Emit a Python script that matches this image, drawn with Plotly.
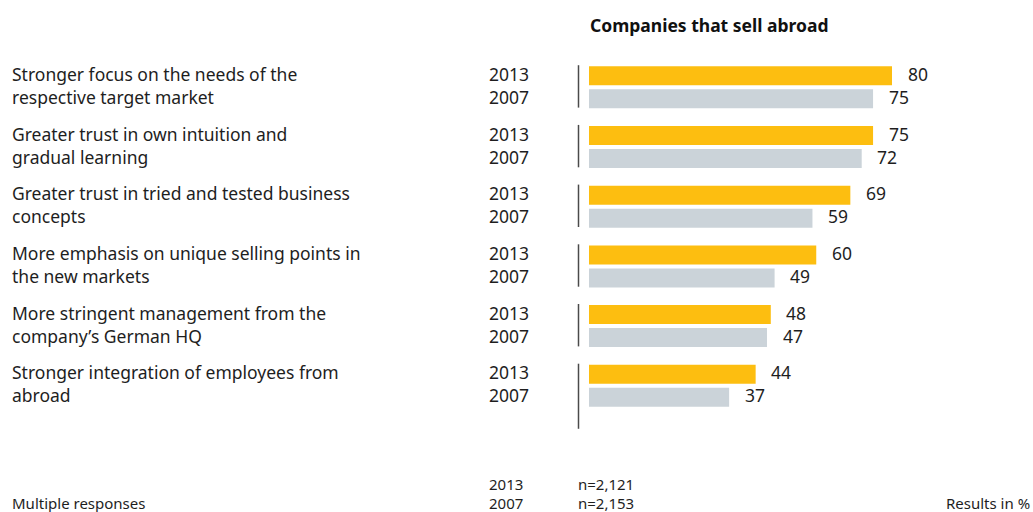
import plotly.graph_objects as go

categories = [
    "Stronger focus on the needs of the<br>respective target market",
    "Greater trust in own intuition and<br>gradual learning",
    "Greater trust in tried and tested business<br>concepts",
    "More emphasis on unique selling points in<br>the new markets",
    "More stringent management from the<br>company’s German HQ",
    "Stronger integration of employees from<br>abroad",
]
values_2013 = [80, 75, 69, 60, 48, 44]
values_2007 = [75, 72, 59, 49, 47, 37]
years = ["2013", "2007"]
sample_sizes = ["n=2,121", "n=2,153"]
title = "Companies that sell abroad"
footer_left = "Multiple responses"
footer_right = "Results in %"

W, H = 1033, 512
YELLOW = "#FDBE10"
GRAY = "#CBD3D9"
TXT = "#1e1e1e"
FONT = "Noto Sans"
FS = 17.5
FS_FOOT = 15

idx = list(range(len(categories)))

fig = go.Figure()
fig.add_trace(go.Bar(y=idx, x=values_2013, orientation="h", marker=dict(color=YELLOW, line=dict(width=0)),
                     name=years[0], hoverinfo="skip"))
fig.add_trace(go.Bar(y=idx, x=values_2007, orientation="h", marker=dict(color=GRAY, line=dict(width=0)),
                     name=years[1], hoverinfo="skip"))

ann = []
shapes = []
OFF_TOP, OFF_BOT = 13.5, -9.5  # px offsets of text rows from group centre
for i, cat in enumerate(categories):
    l1, l2 = cat.split("<br>")
    for line, dy in ((l1, OFF_TOP), (l2, OFF_BOT)):
        ann.append(dict(x=10 / W, xref="paper", y=i, yref="y", yshift=dy, text=line, showarrow=False,
                        xanchor="left", yanchor="middle", font=dict(size=FS, color=TXT, family=FONT)))
    for yr, dy in zip(years, (OFF_TOP, OFF_BOT)):
        ann.append(dict(x=487 / W, xref="paper", y=i, yref="y", yshift=dy, text=yr, showarrow=False,
                        xanchor="left", yanchor="middle", font=dict(size=FS, color=TXT, family=FONT)))
    for v, dy in ((values_2013[i], OFF_TOP), (values_2007[i], OFF_BOT)):
        ann.append(dict(x=v, xref="x", y=i, yref="y", yshift=dy, xshift=13.5, text=str(v), showarrow=False,
                        xanchor="left", yanchor="middle", font=dict(size=FS, color=TXT, family=FONT)))
    bottom = i + (0.72 if i == len(categories) - 1 else 0.34)
    shapes.append(dict(type="line", xref="paper", yref="y", x0=578.5 / W, x1=578.5 / W, y0=i - 0.37, y1=bottom,
                       line=dict(color="#4a4a4a", width=1.5)))

ann.append(dict(x=588 / W, xref="paper", y=1 - 25 / H, yref="paper", text="<b>" + title + "</b>", showarrow=False,
                xanchor="left", yanchor="middle", font=dict(size=FS, color="#111", family=FONT)))
ann.append(dict(x=10 / W, xref="paper", y=1 - 503 / H, yref="paper", text=footer_left, showarrow=False,
                xanchor="left", yanchor="middle", font=dict(size=FS_FOOT, color=TXT, family=FONT)))
ann.append(dict(x=1032 / W, xref="paper", y=1 - 503 / H, yref="paper", text=footer_right, showarrow=False,
                xanchor="right", yanchor="middle", font=dict(size=FS_FOOT, color=TXT, family=FONT)))
for yr, n, ypx in zip(years, sample_sizes, (484, 503)):
    ann.append(dict(x=487 / W, xref="paper", y=1 - ypx / H, yref="paper", text=yr, showarrow=False,
                    xanchor="left", yanchor="middle", font=dict(size=FS_FOOT, color=TXT, family=FONT)))
    ann.append(dict(x=576 / W, xref="paper", y=1 - ypx / H, yref="paper", text=n, showarrow=False,
                    xanchor="left", yanchor="middle", font=dict(size=FS_FOOT, color=TXT, family=FONT)))

PX_PER_UNIT = 3.7875
x_dom0 = 589 / W
x_max = (W - 589) / PX_PER_UNIT
spacing = 59.7
c0 = 87.3

fig.update_layout(
    width=W, height=H, margin=dict(l=0, r=0, t=0, b=0),
    paper_bgcolor="white", plot_bgcolor="white",
    barmode="group", bargap=0.23, bargroupgap=0.174,
    showlegend=False,
    xaxis=dict(domain=[x_dom0, 1], range=[0, x_max], visible=False, fixedrange=True),
    yaxis=dict(domain=[0, 1], range=[(H - c0) / spacing, -c0 / spacing], visible=False, fixedrange=True),
    annotations=ann, shapes=shapes,
    font=dict(family=FONT, color=TXT),
)
fig.write_html("out.html", config={"displayModeBar": False},
               post_script="document.body.style.margin='0';document.body.style.overflow='hidden';")
